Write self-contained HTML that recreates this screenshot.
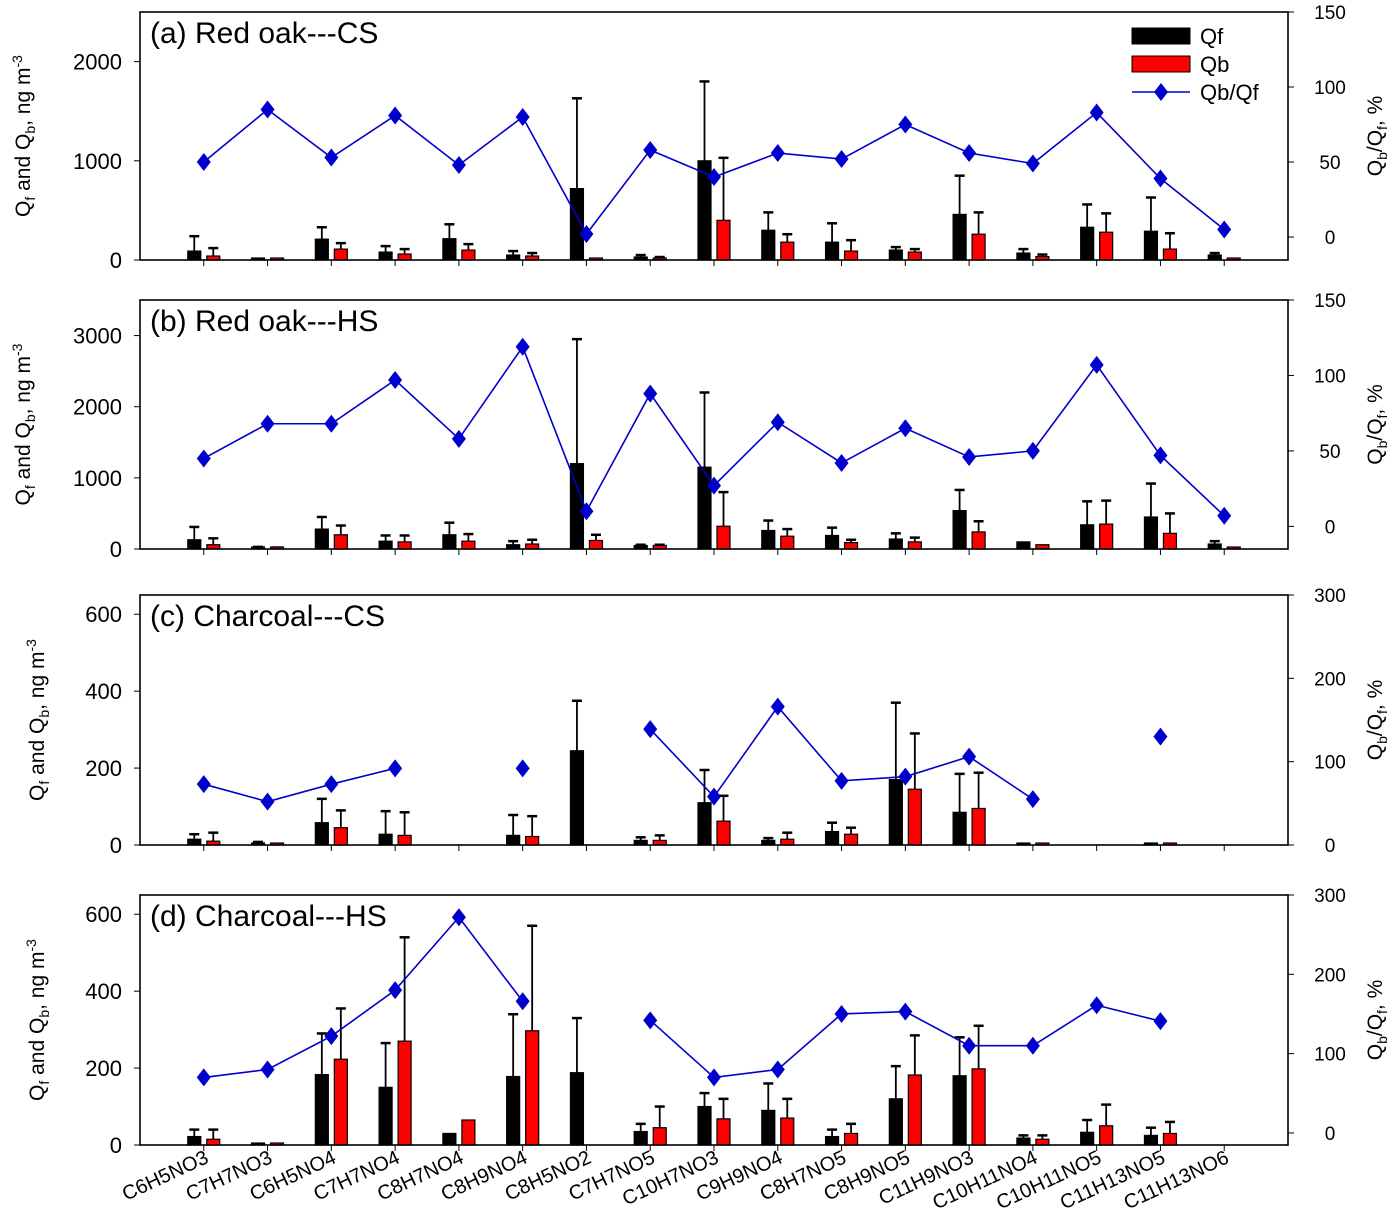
<!DOCTYPE html>
<html><head><meta charset="utf-8"><style>
html,body{margin:0;padding:0;background:#fff}
svg{display:block;font-family:"Liberation Sans",Arial,sans-serif}
</style></head><body>
<svg id="chart" width="1392" height="1232" viewBox="0 0 1392 1232" xmlns="http://www.w3.org/2000/svg"></svg>
<script>
const categories=["C6H5NO3","C7H7NO3","C6H5NO4","C7H7NO4","C8H7NO4","C8H9NO4","C8H5NO2","C7H7NO5","C10H7NO3","C9H9NO4","C8H7NO5","C8H9NO5","C11H9NO3","C10H11NO4","C10H11NO5","C11H13NO5","C11H13NO6"];
const titles=["(a) Red oak---CS","(b) Red oak---HS","(c) Charcoal---CS","(d) Charcoal---HS"];
const qfA=[90,15,210,80,215,50,720,30,1000,300,180,100,460,70,330,290,50];
const qfErrA=[240,15,330,140,360,90,1630,50,1800,480,370,130,850,110,560,630,70];
const qbA=[40,15,110,60,100,40,15,20,400,180,90,80,260,35,280,110,0];
const qbErrA=[120,15,170,110,160,70,15,30,1030,260,200,110,480,55,470,270,0];
const ratioA=[50,85,53,81,48,80,2,58,40,56,52,75,56,49,83,39,5];
const qfB=[130,20,280,110,200,60,1200,50,1150,260,190,140,540,100,340,450,70];
const qfErrB=[310,30,450,190,370,110,2950,60,2200,400,300,220,830,100,670,920,110];
const qbB=[60,15,200,100,110,70,120,50,320,180,90,100,240,60,350,220,10];
const qbErrB=[150,20,330,190,210,130,200,60,800,280,130,160,390,60,680,500,10];
const ratioB=[45,68,68,97,58,119,10,88,27,69,42,65,46,50,107,47,7];
const qfC=[15,5,58,28,null,25,245,12,110,12,35,170,85,5,null,5,null];
const qfErrC=[28,8,120,88,null,78,375,20,195,18,58,370,185,5,null,5,null];
const qbC=[10,5,45,25,null,22,null,12,62,15,28,145,95,3,null,5,null];
const qbErrC=[32,5,90,85,null,75,null,25,128,32,45,290,188,3,null,5,null];
const ratioC=[73,52,73,92,null,92,null,139,58,166,77,82,106,55,null,130,null];
const qfD=[22,5,183,150,30,178,188,35,100,90,22,120,180,18,33,25,null];
const qfErrD=[40,5,290,265,30,340,330,55,135,160,40,205,280,25,65,45,null];
const qbD=[15,5,223,270,65,297,null,45,68,70,30,182,198,15,50,30,null];
const qbErrD=[40,5,355,540,65,570,null,100,120,120,55,285,310,25,105,60,null];
const ratioD=[70,80,122,180,272,166,null,142,70,80,150,153,110,110,161,141,null];
const leftTicksA=[0,1000,2000],leftTicksB=[0,1000,2000,3000],leftTicksC=[0,200,400,600],leftTicksD=[0,200,400,600];
const rightTicksA=[0,50,100,150],rightTicksB=[0,50,100,150],rightTicksC=[0,100,200,300],rightTicksD=[0,100,200,300];

const NS="http://www.w3.org/2000/svg";
const svg=document.getElementById('chart');
function mk(tag,attrs,parent){const e=document.createElementNS(NS,tag);for(const k in attrs)e.setAttribute(k,attrs[k]);(parent||svg).appendChild(e);return e;}
const X0=140,X1=1288,slot=(X1-X0)/(categories.length+1);
function xc(i){return X0+slot*(i+1);}
const panels=[
 {top:12,bot:260,lmax:2500,rmin:-15.3,rmax:150,qf:qfA,qfe:qfErrA,qb:qbA,qbe:qbErrA,r:ratioA,lt:leftTicksA,rt:rightTicksA},
 {top:300,bot:549,lmax:3500,rmin:-15,rmax:150,qf:qfB,qfe:qfErrB,qb:qbB,qbe:qbErrB,r:ratioB,lt:leftTicksB,rt:rightTicksB},
 {top:595,bot:845,lmax:650,rmin:0,rmax:300,qf:qfC,qfe:qfErrC,qb:qbC,qbe:qbErrC,r:ratioC,lt:leftTicksC,rt:rightTicksC},
 {top:895,bot:1145,lmax:650,rmin:-15.2,rmax:300,qf:qfD,qfe:qfErrD,qb:qbD,qbe:qbErrD,r:ratioD,lt:leftTicksD,rt:rightTicksD}
];
panels.forEach((p,pi)=>{
  const g=mk('g',{});
  
  
  const yl=v=>p.bot-(v/p.lmax)*(p.bot-p.top);
  const yr=v=>p.bot-((v-p.rmin)/(p.rmax-p.rmin))*(p.bot-p.top);
  function bar(vals,errs,off,fill,name){
    vals.forEach((v,i)=>{
      if(v==null)return;
      const x=xc(i)+off,y=yl(v);
      const e=errs[i];
      if(e!=null&&e>v){
        const l=mk('line',{x1:x+6.5,x2:x+6.5,y1:y,y2:yl(e),stroke:'#000','stroke-width':1.8},g);
        
        
        const c=mk('line',{x1:x+1.5,x2:x+11.5,y1:yl(e),y2:yl(e),stroke:'#000','stroke-width':2.5},g);
        
        
      }
      const r=mk('rect',{x:x,y:Math.min(y,p.bot-2),width:13,height:Math.max(p.bot-y,2),fill:fill,stroke:'#000','stroke-width':1.2},g);
      
      
    });
  }
  bar(p.qf,p.qfe,-16,'#000','qf');
  bar(p.qb,p.qbe,3,'#ff0000','qb');
  let d='',pen=false;
  p.r.forEach((v,i)=>{if(v==null){pen=false;return;}d+=(pen?'L':'M')+xc(i)+' '+yr(v)+' ';pen=true;});
  const ln=mk('path',{d:d,fill:'none',stroke:'#0000cc','stroke-width':1.6},g);
  
  
  p.r.forEach((v,i)=>{if(v==null)return;const x=xc(i),y=yr(v);
    const m=mk('path',{d:`M${x} ${y-9}L${x+7} ${y}L${x} ${y+9}L${x-7} ${y}Z`,fill:'#0000cc'},g);
    
    });
  const f=mk('rect',{x:X0,y:p.top,width:X1-X0,height:p.bot-p.top,fill:'none',stroke:'#000','stroke-width':1.6},g);
  
  
  categories.forEach((c,i)=>{mk('line',{x1:xc(i),x2:xc(i),y1:p.bot,y2:p.bot+6,stroke:'#000','stroke-width':1},g);});
  p.lt.forEach(v=>{const y=yl(v);mk('line',{x1:X0-6,x2:X0,y1:y,y2:y,stroke:'#000','stroke-width':1},g);
    const t=mk('text',{x:X0-18,y:y+8,'text-anchor':'end','font-size':22},g);t.textContent=v;
    });
  p.rt.forEach(v=>{const y=yr(v);mk('line',{x1:X1,x2:X1+6,y1:y,y2:y,stroke:'#000','stroke-width':1},g);
    const t=mk('text',{x:X1+42,y:y+7,'text-anchor':'middle','font-size':19},g);t.textContent=v;
    });
  const tt=mk('text',{x:150,y:p.top+31,'font-size':30},g);tt.textContent=titles[pi];
  
  const cy=(p.top+p.bot)/2;
  const lx=pi>=2?44:30;
  const yt=mk('text',{transform:`translate(${lx},${cy}) rotate(-90)`,'text-anchor':'middle','font-size':21},g);
  yt.innerHTML='Q<tspan font-size="14" dy="5">f</tspan><tspan dy="-5"> and Q</tspan><tspan font-size="14" dy="5">b</tspan><tspan dy="-5">, ng m</tspan><tspan font-size="14" dy="-8">-3</tspan>';
  
  const rt=mk('text',{transform:`translate(1382,${cy}) rotate(-90)`,'text-anchor':'middle','font-size':21},g);
  rt.innerHTML='Q<tspan font-size="14" dy="5">b</tspan><tspan dy="-5">/Q</tspan><tspan font-size="14" dy="5">f</tspan><tspan dy="-5">, %</tspan>';
  
});
categories.forEach((c,i)=>{
  const t=mk('text',{transform:`translate(${xc(i)+6},${1162}) rotate(-25)`,'text-anchor':'end','font-size':20});
  t.textContent=c;
  
  
});
const lg=mk('g',{});


mk('rect',{x:1132,y:28,width:58,height:16,fill:'#000',stroke:'#000'},lg);
mk('rect',{x:1132,y:56,width:58,height:16,fill:'#ff0000',stroke:'#000'},lg);
mk('line',{x1:1132,x2:1190,y1:92,y2:92,stroke:'#0000cc','stroke-width':1.6},lg);
mk('path',{d:'M1161 83L1168 92L1161 101L1154 92Z',fill:'#0000cc'},lg);
[['Qf',44],['Qb',72],['Qb/Qf',100]].forEach(a=>{const t=mk('text',{x:1200,y:a[1],'font-size':22},lg);t.textContent=a[0];
  });
</script>
</body></html>
